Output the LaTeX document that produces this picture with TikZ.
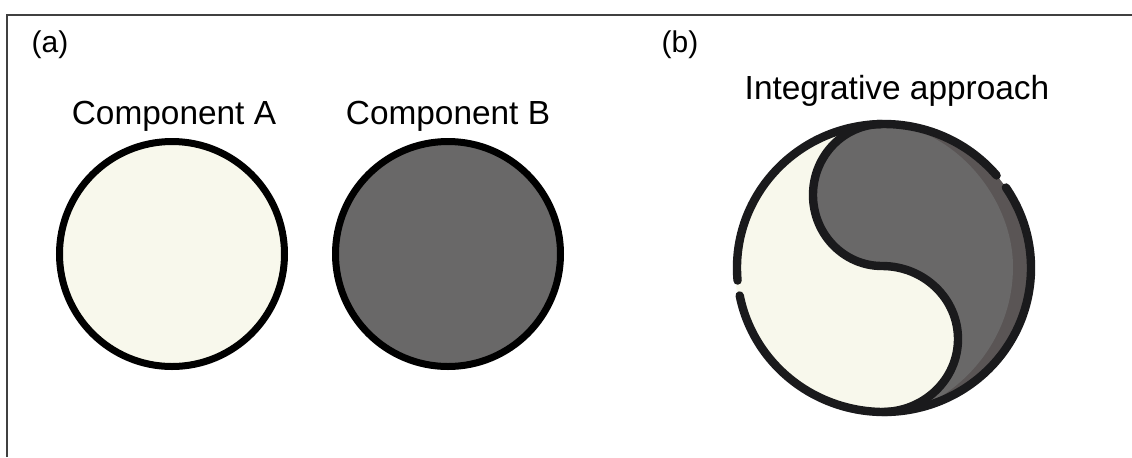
\documentclass[tikz,border=0pt]{standalone}
\usepackage{fontspec}
\setmainfont{Liberation Sans}
\usetikzlibrary{positioning}
\definecolor{cream}{HTML}{F8F8EC}
\definecolor{slate}{HTML}{696868}
\definecolor{rim}{HTML}{5A5555}
\definecolor{ink}{HTML}{1A1A1C}
\tikzset{%
	comp/.style={draw=black, circle, line width=3.5pt, minimum size=112.5pt, inner sep=0mm},
	title/.style={font=\fontsize{16.7}{20}\selectfont, inner sep=0mm},
	tag/.style={font=\fontsize{15}{18}\selectfont, inner sep=0mm},
	outline/.style={draw=ink, line width=4.2pt, line cap=round},
	frameline/.style={draw=black!75, line width=1pt}
}
\begin{document}
\begin{tikzpicture}[x=0.5pt, y=-0.5pt]
	\useasboundingbox (0,0) rectangle (1132,457);

	\coordinate (corner) at (7,15);
	\coordinate (frameL) at (7,457);
	\coordinate (frameR) at (1132,15);
	\draw[frameline] (frameL) -- (corner) -- (frameR);

	\node[tag] (tagA) at (50,45) {(a)};
	\node[tag] (tagB) at (680,45) {(b)};

	\node[comp, fill=cream] (compA) at (172,254) {};
	\node[comp, fill=slate, right=22pt of compA] (compB) {};
	\node[title] (titleA) at (174,116) {Component A};
	\node[title] (titleB) at (448,116) {Component B};
	\node[title] (titleC) at (897,91) {Integrative approach};

	\fill[rim] (884,268) ellipse [x radius=147, y radius=144];
	\fill[slate] (882,124) .. controls (950,125) and (1013,195) .. (1013,267)
		.. controls (1013,325) and (980,375) .. (932,402) -- (882,412) -- (882,266)
		arc[start angle=90, end angle=270, x radius=69, y radius=71];
	\fill[cream] (882,124) arc[start angle=-90, end angle=-270, x radius=69, y radius=71]
		arc[start angle=-90, end angle=90, x radius=76, y radius=73]
		arc[start angle=90, end angle=270, x radius=147, y radius=144];
	\draw[outline] (882,124) arc[start angle=-90, end angle=-270, x radius=69, y radius=71]
		arc[start angle=-90, end angle=90, x radius=76, y radius=73];
	\draw[outline] (884,268) ++(-34:147 and 144) arc[start angle=-34, end angle=169, x radius=147, y radius=144];
	\draw[outline] (884,268) ++(175:147 and 144) arc[start angle=175, end angle=320, x radius=147, y radius=144];
\end{tikzpicture}
\end{document}
